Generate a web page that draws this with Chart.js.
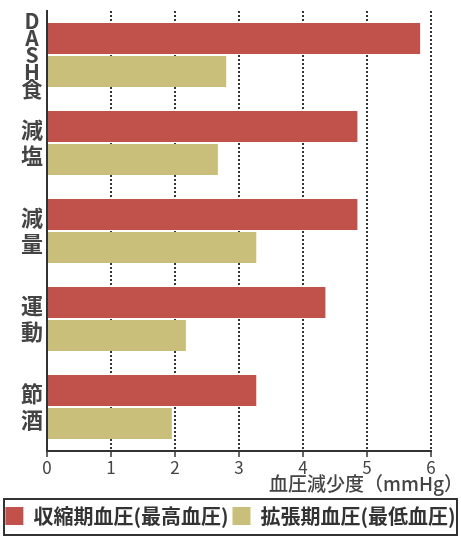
<!DOCTYPE html>
<html lang="ja">
<head>
    <meta charset="UTF-8">
    <title>生活習慣の修正による血圧減少度</title>
    <script src="https://cdn.jsdelivr.net/npm/chart.js"></script>
    <style>
        html, body { margin: 0; padding: 0; background: #fff; }
        #wrap { width: 461px; height: 536px; }
    </style>
</head>
<body>
    <div id="wrap"><canvas id="myChart" width="461" height="536"></canvas></div>

    <script>
        // 項目（縦書きラベルは1文字ずつ改行）
        const categories = ['DASH食', '減塩', '減量', '運動', '節酒'];
        // 収縮期血圧（最高血圧）の減少度
        const systolic = [5.83, 4.85, 4.85, 4.35, 3.27];
        // 拡張期血圧（最低血圧）の減少度
        const diastolic = [2.8, 2.67, 3.27, 2.17, 1.95];
        const seriesNames = ['収縮期血圧(最高血圧)', '拡張期血圧(最低血圧)'];
        const xTicks = [0, 1, 2, 3, 4, 5, 6];
        const xTitle = '血圧減少度（mmHg）';

        const FONT = '"Noto Sans CJK JP", "Noto Sans", sans-serif';
        const TEXT = '#444';

        // x軸タイトルは右端をはみ出して右寄せ
        const axisTitlePlugin = {
            id: 'axisTitle',
            afterDraw(chart) {
                const ctx = chart.ctx;
                const sx = chart.scales.x;
                ctx.save();
                ctx.font = '500 19px ' + FONT;
                ctx.fillStyle = TEXT;
                ctx.textAlign = 'right';
                ctx.textBaseline = 'middle';
                ctx.fillText(xTitle, sx.right + 32, sx.bottom - 18);
                ctx.restore();
            }
        };

        // 凡例の枠線
        const legendBoxPlugin = {
            id: 'legendBox',
            afterDraw(chart) {
                const l = chart.legend;
                const ctx = chart.ctx;
                ctx.save();
                ctx.strokeStyle = '#333';
                ctx.lineWidth = 2;
                ctx.strokeRect(l.left + 4, l.top - 3, l.width - 8, chart.height - l.top + 2);
                ctx.restore();
            }
        };

        const ctx = document.getElementById('myChart').getContext('2d');
        new Chart(ctx, {
            type: 'bar',
            data: {
                labels: categories.map(c => [...c]),
                datasets: [
                    {
                        label: seriesNames[0],
                        data: systolic,
                        backgroundColor: '#c0524b',
                        borderWidth: 0,
                        categoryPercentage: 0.75,
                        barPercentage: 0.94
                    },
                    {
                        label: seriesNames[1],
                        data: diastolic,
                        backgroundColor: '#c9bf7a',
                        borderWidth: 0,
                        categoryPercentage: 0.75,
                        barPercentage: 0.94
                    }
                ]
            },
            options: {
                indexAxis: 'y',
                responsive: false,
                animation: false,
                layout: { padding: { top: 11, left: 0, right: 0, bottom: 0 } },
                plugins: {
                    tooltip: { enabled: false },
                    legend: {
                        position: 'bottom',
                        labels: {
                            boxWidth: 18,
                            boxHeight: 18,
                            padding: 4,
                            color: '#333',
                            font: { family: FONT, size: 20, weight: 'bold' }
                        }
                    }
                },
                scales: {
                    x: {
                        min: 0,
                        max: 6,
                        afterBuildTicks: s => { s.ticks = xTicks.map(v => ({ value: v })); },
                        afterFit: s => { s.height = 51; },
                        grid: {
                            color: '#333',
                            lineWidth: 2,
                            tickLength: 6,
                            tickColor: '#333',
                            tickWidth: 1.5
                        },
                        border: { display: true, color: '#333', width: 2, dash: [2, 2] },
                        ticks: {
                            padding: 0,
                            color: TEXT,
                            font: { family: FONT, size: 17 }
                        }
                    },
                    y: {
                        afterFit: s => { s.width = 47; s.paddingTop = 0; s.paddingBottom = 0; },
                        grid: { display: false, drawTicks: false },
                        border: { display: true, color: '#333', width: 2 },
                        ticks: {
                            padding: 4,
                            crossAlign: 'center',
                            color: TEXT,
                            font: ctx => ctx.index === 0
                                ? { family: FONT, size: 21, weight: 'bold', lineHeight: '16.8px' }
                                : { family: FONT, size: 22, weight: 'bold', lineHeight: '26px' }
                        }
                    },
                    yRight: {
                        type: 'linear',
                        position: 'right',
                        afterFit: s => { s.width = 30; s.paddingTop = 0; s.paddingBottom = 0; },
                        grid: { display: false },
                        border: { display: false },
                        ticks: { display: false }
                    }
                }
            },
            plugins: [axisTitlePlugin, legendBoxPlugin]
        });
    </script>
</body>
</html>
